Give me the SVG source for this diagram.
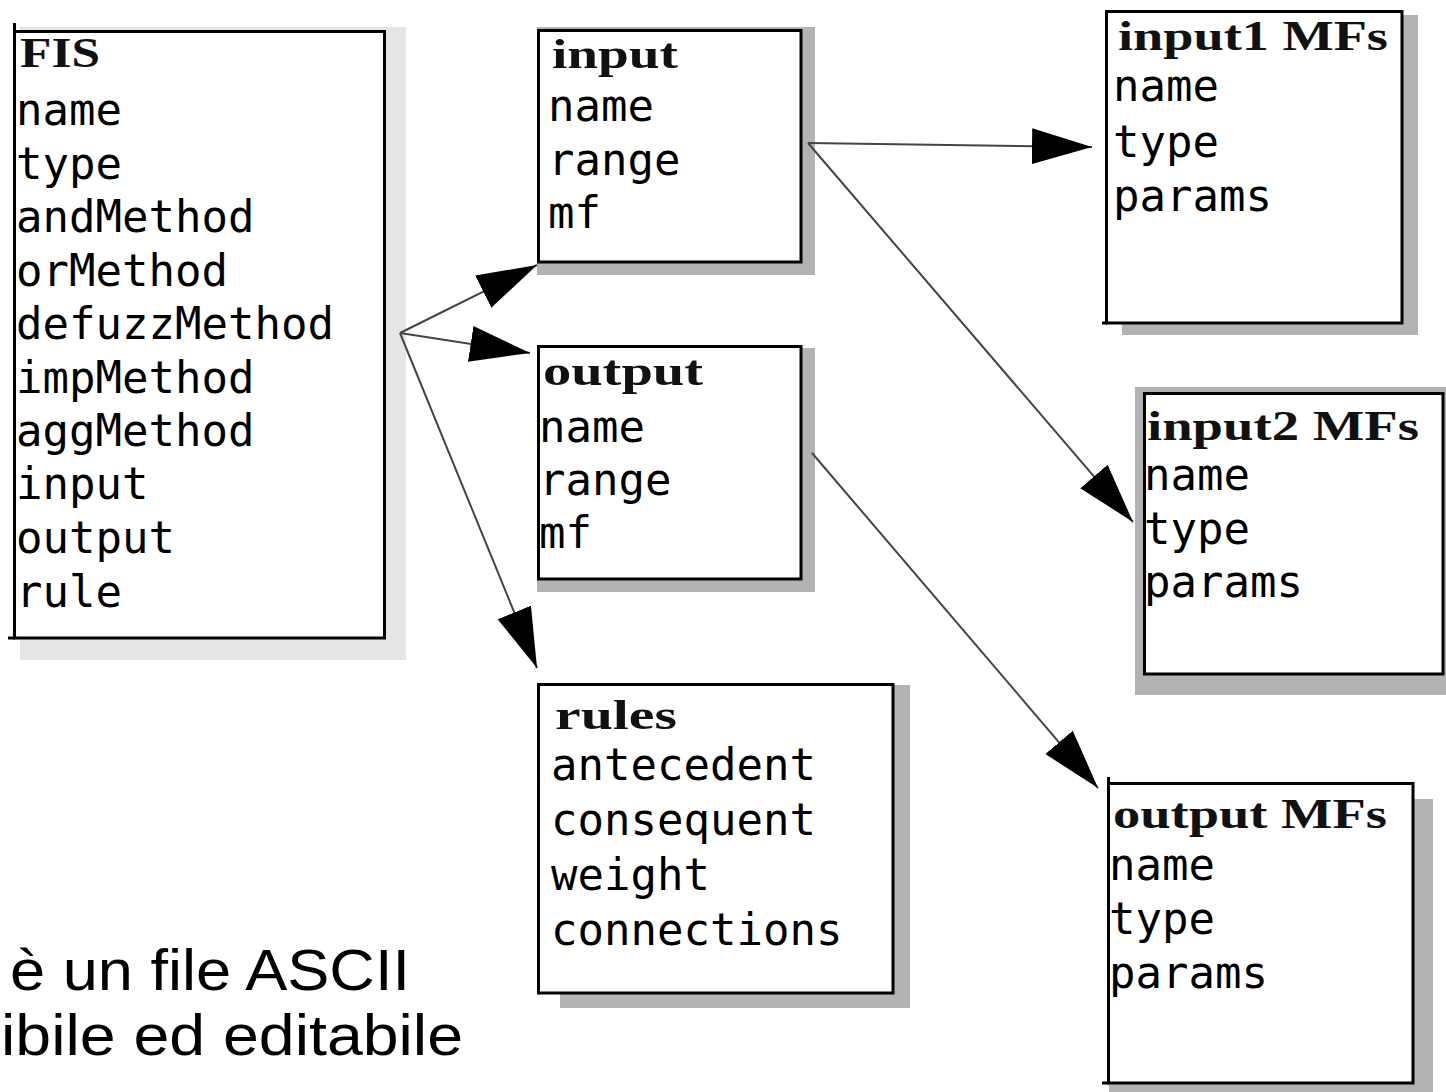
<svg xmlns="http://www.w3.org/2000/svg" width="1446" height="1092" viewBox="0 0 1446 1092">
<style>
.box{fill:#fff;stroke:#000;stroke-width:3}
.sh{fill:#b3b3b3}
.shl{fill:#e5e5e5}
.ttl{font-family:"Liberation Serif","Times New Roman",serif;font-weight:bold;font-size:42px;fill:#111}
.mono{font-family:"DejaVu Sans Mono","Liberation Mono",monospace;font-size:44px;fill:#000}
.edge{stroke:#444;stroke-width:2;fill:none}
.tick{stroke:#000;stroke-width:3}
.big{font-family:"Liberation Sans",Arial,sans-serif;font-size:57px;fill:#000}
</style>
<defs>
<marker id="ah" markerUnits="userSpaceOnUse" markerWidth="62" markerHeight="38" refX="60" refY="18" orient="auto">
<path d="M0,0 L60,18 L0,36 z" fill="#000"/>
</marker>
</defs>
<rect width="1446" height="1092" fill="#fff"/>

<g id="fis">
<rect class="shl" x="20" y="27" width="386" height="633"/>
<rect class="box" x="14.5" y="31.5" width="370" height="606.5"/>
<line class="tick" x1="14.5" y1="23" x2="14.5" y2="32"/>
<line class="tick" x1="8" y1="638" x2="15" y2="638"/>
<text class="ttl" x="20" y="67" textLength="80" lengthAdjust="spacingAndGlyphs">FIS</text>
<text class="mono" x="16" y="125">name</text>
<text class="mono" x="16" y="179">type</text>
<text class="mono" x="16" y="232">andMethod</text>
<text class="mono" x="16" y="286">orMethod</text>
<text class="mono" x="16" y="339">defuzzMethod</text>
<text class="mono" x="16" y="393">impMethod</text>
<text class="mono" x="16" y="446">aggMethod</text>
<text class="mono" x="16" y="499">input</text>
<text class="mono" x="16" y="553">output</text>
<text class="mono" x="16" y="607">rule</text>
</g>

<g id="input">
<rect class="sh" x="537" y="27" width="278" height="248"/>
<rect class="box" x="538.5" y="30.5" width="262.5" height="231.5"/>
<text class="ttl" x="552" y="68" textLength="126" lengthAdjust="spacingAndGlyphs">input</text>
<text class="mono" x="548" y="121">name</text>
<text class="mono" x="548" y="175">range</text>
<text class="mono" x="548" y="228">mf</text>
</g>

<g id="output">
<rect class="sh" x="537" y="348" width="278" height="244"/>
<rect class="box" x="538.5" y="346.5" width="262.5" height="232.5"/>
<text class="ttl" x="543" y="385" textLength="160" lengthAdjust="spacingAndGlyphs">output</text>
<text class="mono" x="539" y="442">name</text>
<text class="mono" x="539" y="495">range</text>
<text class="mono" x="539" y="548">mf</text>
</g>

<g id="rules">
<rect class="sh" x="560" y="685" width="350" height="323"/>
<rect class="box" x="538.5" y="684.5" width="354.5" height="308.5"/>
<text class="ttl" x="555" y="729" textLength="122" lengthAdjust="spacingAndGlyphs">rules</text>
<text class="mono" x="551" y="780">antecedent</text>
<text class="mono" x="551" y="835">consequent</text>
<text class="mono" x="551" y="890">weight</text>
<text class="mono" x="551" y="945">connections</text>
</g>

<g id="input1mfs">
<rect class="sh" x="1122" y="15" width="296" height="320"/>
<rect class="box" x="1106.5" y="11.5" width="295.5" height="311.5"/>
<line class="tick" x1="1102" y1="323" x2="1107" y2="323"/>
<text class="ttl" x="1118" y="50" textLength="270" lengthAdjust="spacingAndGlyphs">input1 MFs</text>
<text class="mono" x="1113" y="101">name</text>
<text class="mono" x="1113" y="157">type</text>
<text class="mono" x="1113" y="211">params</text>
</g>

<g id="input2mfs">
<rect class="sh" x="1135" y="387" width="311" height="308"/>
<rect class="box" x="1144.5" y="393.5" width="298.5" height="280.5"/>
<text class="ttl" x="1147" y="440" textLength="272" lengthAdjust="spacingAndGlyphs">input2 MFs</text>
<text class="mono" x="1144" y="490">name</text>
<text class="mono" x="1144" y="544">type</text>
<text class="mono" x="1144" y="597">params</text>
</g>

<g id="outputmfs">
<rect class="sh" x="1109" y="799" width="324" height="293"/>
<rect class="box" x="1108.5" y="783.5" width="304.5" height="299.5"/>
<line class="tick" x1="1108.5" y1="777" x2="1108.5" y2="784"/>
<line class="tick" x1="1102" y1="1083" x2="1109" y2="1083"/>
<text class="ttl" x="1113" y="828" textLength="274" lengthAdjust="spacingAndGlyphs">output MFs</text>
<text class="mono" x="1109" y="880">name</text>
<text class="mono" x="1109" y="934">type</text>
<text class="mono" x="1109" y="988">params</text>
</g>

<g id="connectors">
<line class="edge" x1="400" y1="333" x2="537" y2="265" marker-end="url(#ah)"/>
<line class="edge" x1="400" y1="333" x2="530" y2="353" marker-end="url(#ah)"/>
<line class="edge" x1="400" y1="333" x2="537" y2="668" marker-end="url(#ah)"/>
<line class="edge" x1="808" y1="143" x2="1092" y2="147" marker-end="url(#ah)"/>
<line class="edge" x1="808" y1="143" x2="1133" y2="522" marker-end="url(#ah)"/>
<line class="edge" x1="812" y1="453" x2="1098" y2="788" marker-end="url(#ah)"/>
</g>

<g id="caption">
<text class="big" x="10" y="990" textLength="400" lengthAdjust="spacingAndGlyphs">è un file ASCII</text>
<text class="big" x="1" y="1055" textLength="462" lengthAdjust="spacingAndGlyphs">ibile ed editabile</text>
</g>
</svg>
